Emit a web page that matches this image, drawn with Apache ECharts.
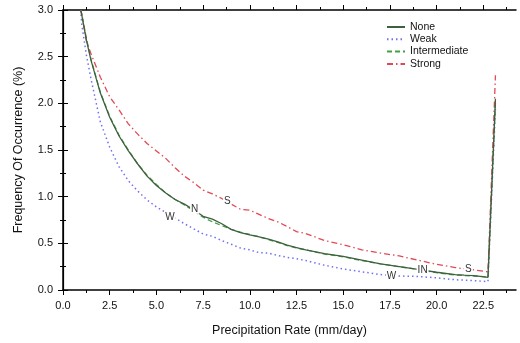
<!DOCTYPE html>
<html>
<head>
<meta charset="utf-8">
<script src="https://cdn.jsdelivr.net/npm/echarts@6/dist/echarts.min.js"></script>
<style>html,body{margin:0;padding:0;background:#fff}#c{width:520px;height:343px}</style>
</head>
<body>
<div id="c"></div>
<script>
// Precipitation rate (mm/day)
var rate = [0.95, 1.0, 1.25, 1.5, 2.0, 2.5, 3.0, 3.5, 4.0, 4.5, 5.0, 5.5, 6.0, 6.5, 7.0, 7.5, 8.0, 8.5, 9.0, 9.5, 10.0, 10.5, 11.0, 11.5, 12.0, 12.5, 13.0, 14.0, 15.0, 16.0, 17.0, 18.0, 19.0, 20.0, 21.0, 22.0, 22.75, 23.15];
// Frequency of occurrence (%)
var none = [3.0, 2.95, 2.68, 2.46, 2.11, 1.85, 1.65, 1.49, 1.35, 1.22, 1.12, 1.04, 0.97, 0.92, 0.86, 0.79, 0.76, 0.71, 0.65, 0.615, 0.59, 0.57, 0.545, 0.515, 0.48, 0.455, 0.43, 0.39, 0.36, 0.32, 0.28, 0.25, 0.22, 0.19, 0.165, 0.155, 0.135, 2.05];
var weak = [3.0, 2.85, 2.52, 2.26, 1.80, 1.53, 1.32, 1.17, 1.06, 0.965, 0.89, 0.83, 0.77, 0.71, 0.655, 0.60, 0.575, 0.53, 0.49, 0.45, 0.43, 0.40, 0.395, 0.37, 0.35, 0.335, 0.315, 0.265, 0.225, 0.195, 0.165, 0.15, 0.145, 0.13, 0.11, 0.10, 0.09, 1.95];
var intermediate = [3.0, 2.96, 2.70, 2.47, 2.12, 1.86, 1.66, 1.50, 1.35, 1.23, 1.13, 1.04, 0.97, 0.91, 0.85, 0.78, 0.73, 0.69, 0.65, 0.62, 0.595, 0.57, 0.54, 0.51, 0.475, 0.45, 0.43, 0.385, 0.355, 0.315, 0.28, 0.25, 0.22, 0.185, 0.16, 0.15, 0.14, 2.0];
var strong = [3.0, 2.96, 2.67, 2.53, 2.28, 2.07, 1.93, 1.78, 1.67, 1.57, 1.49, 1.41, 1.31, 1.22, 1.15, 1.07, 1.03, 0.98, 0.92, 0.865, 0.855, 0.81, 0.765, 0.73, 0.68, 0.625, 0.605, 0.53, 0.485, 0.43, 0.395, 0.365, 0.32, 0.275, 0.24, 0.215, 0.195, 2.30];
// Tick values
var xMajor = [0, 2.5, 5, 7.5, 10, 12.5, 15, 17.5, 20, 22.5];
var xMinor = [1.25, 3.75, 6.25, 8.75, 11.25, 13.75, 16.25, 18.75, 21.25, 23.75];
// In-line curve labels [x, y, text]
var labelsNone = [[7.05, 0.87, 'N']];
var labelsWeak = [[5.72, 0.78, 'W'], [17.59, 0.15, 'W']];
var labelsInt = [[19.25, 0.214, 'IN']];
var labelsStrong = [[8.8, 0.946, 'S'], [21.7, 0.22, 'S']];

function pairs(v) { return rate.map(function (x, i) { return [x, v[i]]; }); }
function marks(arr) {
  return {
    symbol: 'circle', symbolSize: 1, itemStyle: { color: 'rgba(0,0,0,0)' },
    label: { show: true, position: 'inside', formatter: '{b}', color: '#333', fontSize: 10, fontFamily: 'Liberation Sans, Arial, sans-serif', backgroundColor: '#fff', padding: [0, 1] },
    data: arr.map(function (a) { return { name: a[2], coord: [a[0], a[1]] }; })
  };
}
var font = 'Liberation Sans, Arial, sans-serif';
var xBase = { type: 'value', min: 0, max: 24.25, splitLine: { show: false }, gridIndex: 0 };
function xa(pos, vals, len, showLine, showLabel, extra) {
  var o = Object.assign({}, xBase, {
    position: pos,
    axisLine: { show: showLine, lineStyle: { color: '#000', width: 1.5 } },
    axisTick: { show: true, customValues: vals, length: len, lineStyle: { color: '#000', width: 1 } },
    axisLabel: showLabel ? { show: true, customValues: vals, margin: 10, fontSize: 11, color: '#111', fontFamily: font, formatter: function (v) { return v.toFixed(1); } } : { show: false }
  });
  return Object.assign(o, extra || {});
}
var chart = echarts.init(document.getElementById('c'));
chart.setOption({
  animation: false,
  grid: { left: 63, right: 4, top: 10, bottom: 53, containLabel: false, outerBoundsMode: 'none' },
  legend: {
    orient: 'vertical', left: 386, top: 21, padding: 0, itemWidth: 18, itemHeight: 10, itemGap: 0.3,
    itemStyle: { color: 'rgba(0,0,0,0)', borderWidth: 0, opacity: 0 },
    textStyle: { fontSize: 10.5, color: '#111', fontFamily: font, lineHeight: 12 },
    data: ['None', 'Weak', 'Intermediate', 'Strong']
  },
  xAxis: [
    xa('bottom', xMajor, 5, true, true, { name: 'Precipitation Rate (mm/day)', nameLocation: 'middle', nameGap: 34, nameTextStyle: { fontSize: 12.5, color: '#111', fontFamily: font } }),
    xa('bottom', xMinor, 3, false, false),
    xa('top', xMajor, 5, true, false),
    xa('top', xMinor, 3, false, false)
  ],
  yAxis: [
    { type: 'value', position: 'left', min: 0, max: 3, interval: 0.5, splitLine: { show: false },
      axisLine: { show: true, lineStyle: { color: '#000', width: 1.5 } },
      axisTick: { show: true, length: 5, lineStyle: { color: '#000' } },
      minorTick: { show: true, splitNumber: 2, length: 3, lineStyle: { color: '#000' } },
      axisLabel: { margin: 10, fontSize: 11, color: '#111', fontFamily: font, formatter: function (v) { return v.toFixed(1); } },
      name: 'Frequency Of Occurrence (%)', nameLocation: 'middle', nameGap: 38, nameRotate: 90,
      nameTextStyle: { fontSize: 12.5, color: '#111', fontFamily: font } },
    { type: 'value', position: 'right', min: 0, max: 3, interval: 0.5, splitLine: { show: false },
      axisLine: { show: true, lineStyle: { color: '#000', width: 1.2 } },
      axisTick: { show: true, length: 5, lineStyle: { color: '#000' } },
      minorTick: { show: true, splitNumber: 2, length: 3, lineStyle: { color: '#000' } },
      axisLabel: { show: false } }
  ],
  series: [
    { name: 'None', type: 'line', data: pairs(none), showSymbol: false, symbol: 'none', color: '#3f5f3f',
      lineStyle: { width: 1.3, type: 'solid', color: '#3f5f3f' }, markPoint: marks(labelsNone), z: 4 },
    { name: 'Weak', type: 'line', data: pairs(weak), showSymbol: false, symbol: 'none', color: '#7070f0',
      lineStyle: { width: 1.5, type: [1.5, 3], color: '#7070f0' }, markPoint: marks(labelsWeak) },
    { name: 'Intermediate', type: 'line', data: pairs(intermediate), showSymbol: false, symbol: 'none', color: '#44a044',
      lineStyle: { width: 1.3, type: [5, 3], color: '#44a044' }, markPoint: marks(labelsInt) },
    { name: 'Strong', type: 'line', data: pairs(strong), showSymbol: false, symbol: 'none', color: '#e04a55',
      lineStyle: { width: 1.3, type: [6, 3, 1.5, 3], color: '#e04a55' }, markPoint: marks(labelsStrong) }
  ]
});
</script>
</body>
</html>
